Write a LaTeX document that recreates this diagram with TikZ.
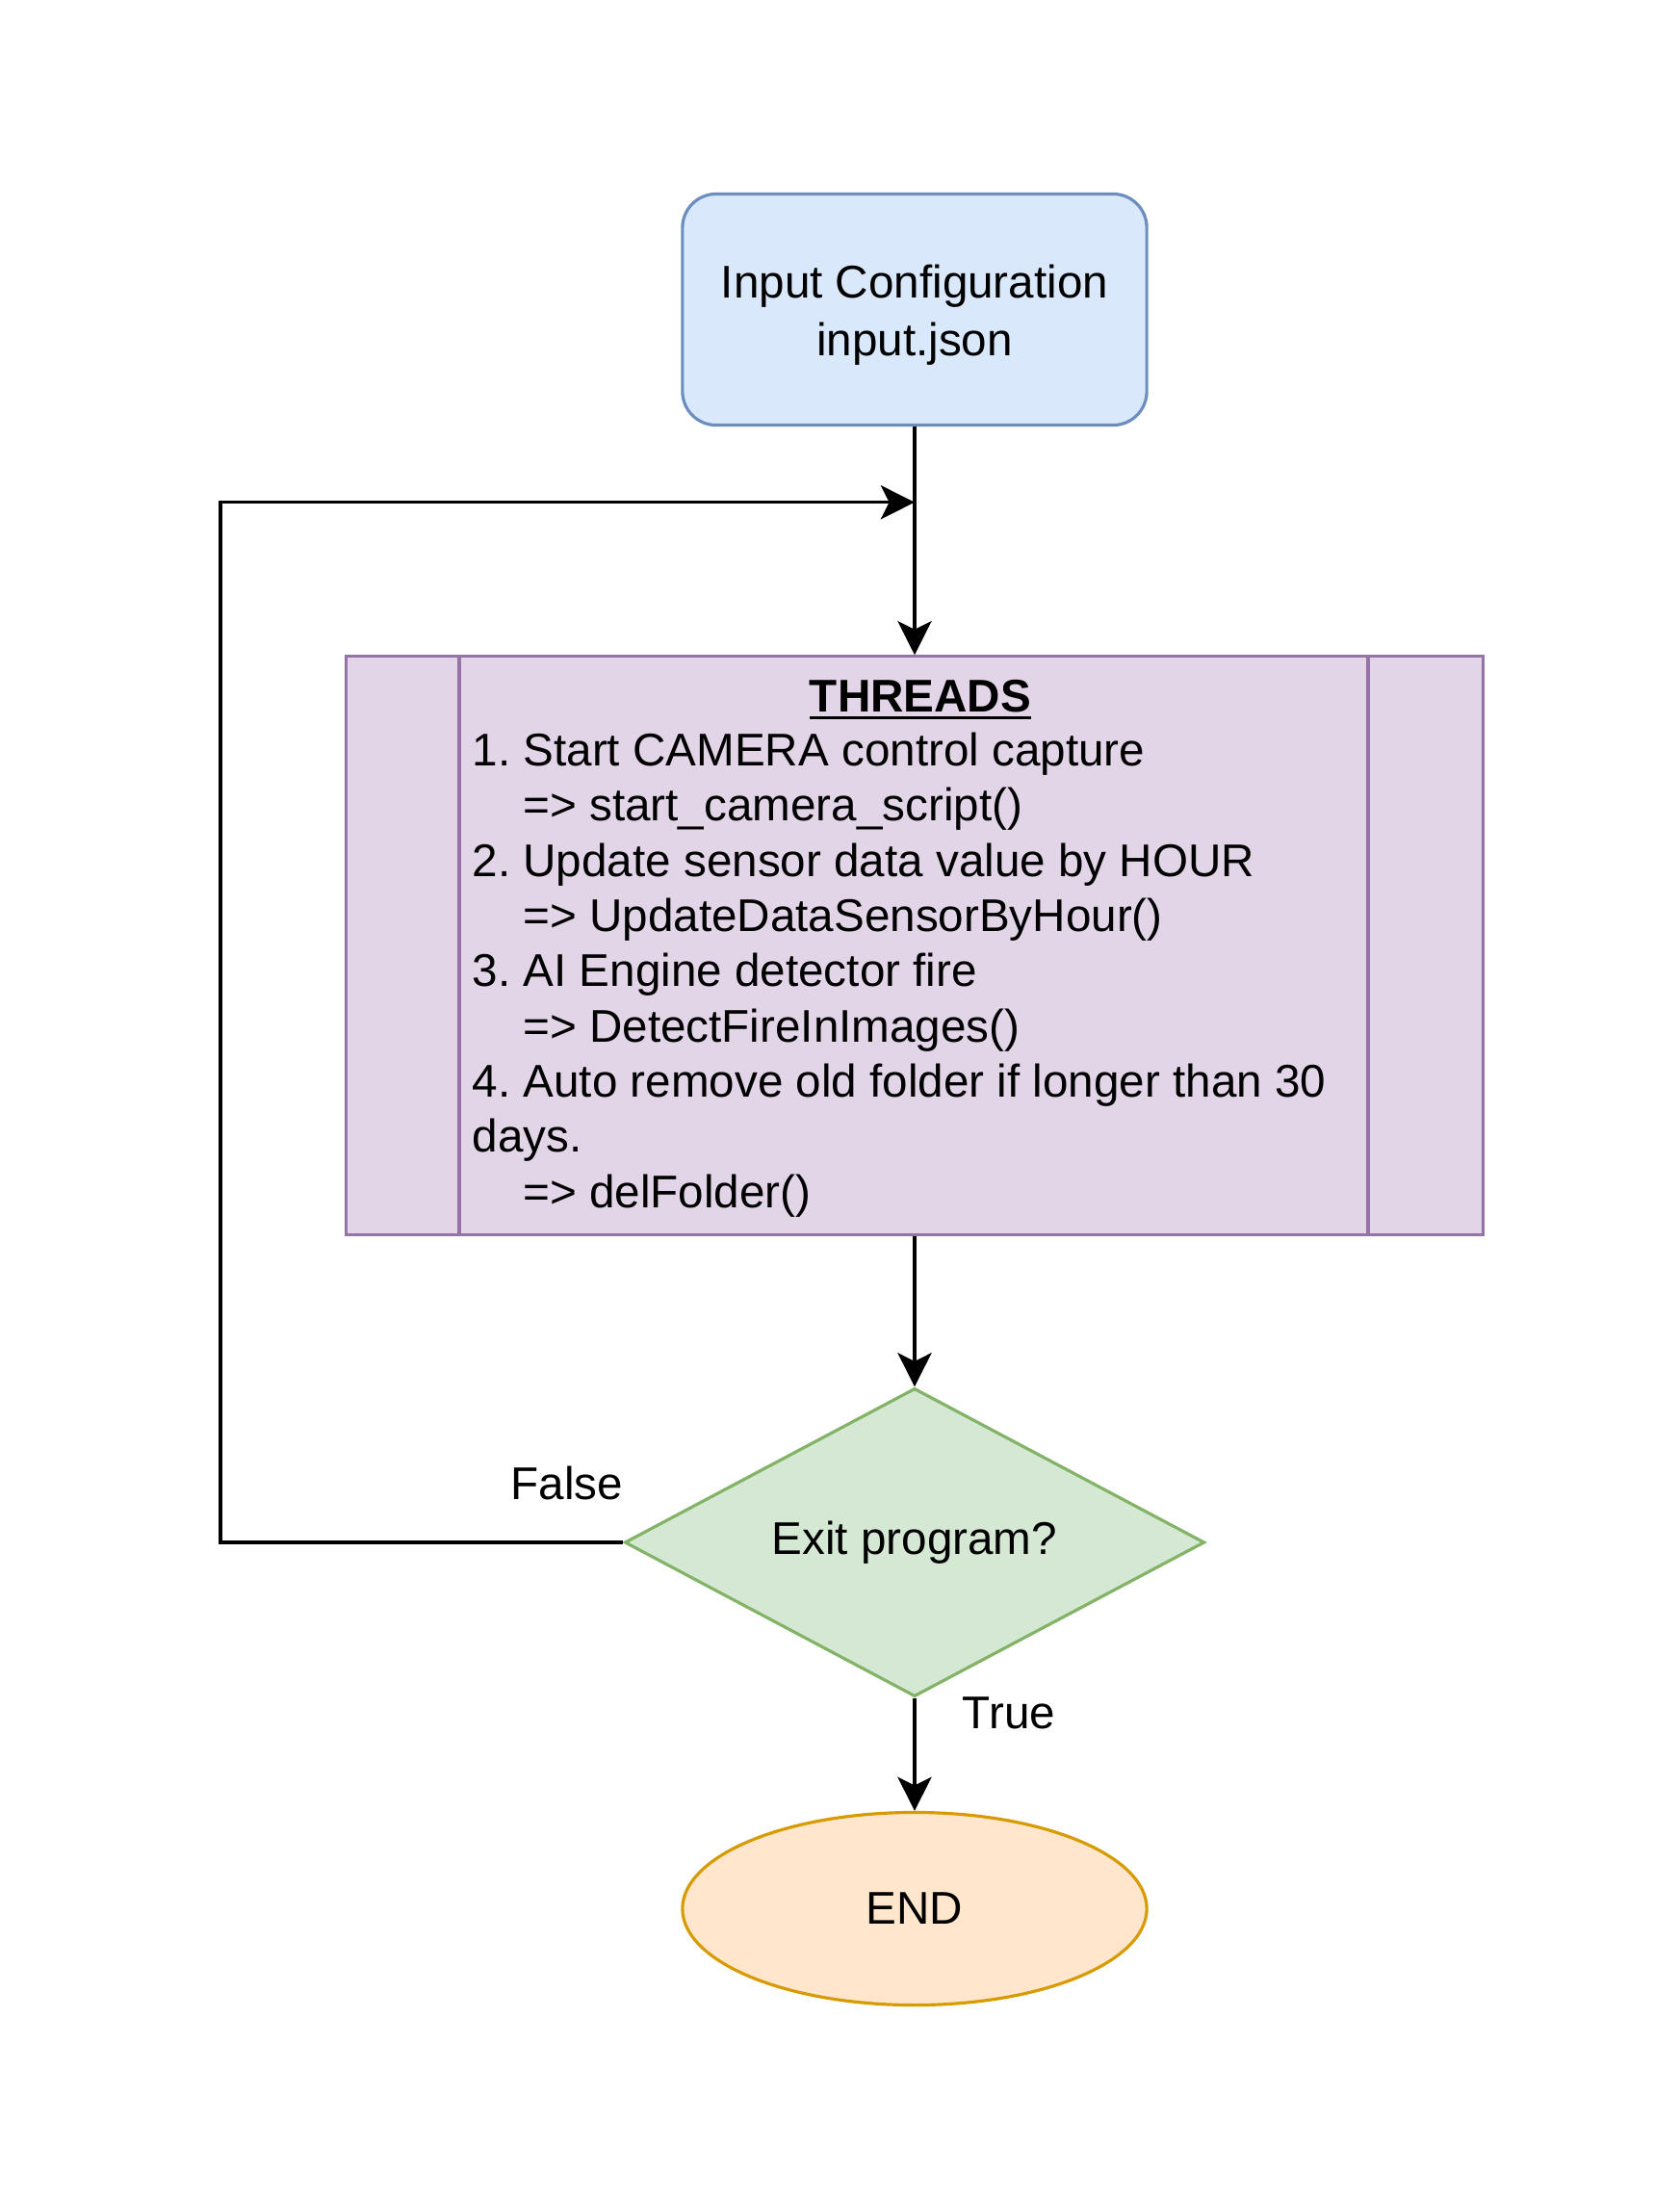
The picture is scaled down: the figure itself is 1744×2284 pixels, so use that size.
\documentclass[tikz,border=0pt]{standalone}
\usepackage{fontspec}
\setmainfont{Liberation Sans}
\usetikzlibrary{shapes.geometric,arrows.meta,calc}
\frenchspacing

\definecolor{blueFill}{HTML}{DAE8FC}
\definecolor{blueLine}{HTML}{6C8EBF}
\definecolor{purpleFill}{HTML}{E1D5E7}
\definecolor{purpleLine}{HTML}{9673A6}
\definecolor{greenFill}{HTML}{D5E8D4}
\definecolor{greenLine}{HTML}{82B366}
\definecolor{orangeFill}{HTML}{FFE6CC}
\definecolor{orangeLine}{HTML}{D79B00}

% bold heading with a heavier underline
\newcommand\thickunderline[1]{\setbox0\hbox{\bfseries #1}\rlap{\rule[-2.4pt]{\wd0}{0.9pt}}\box0}

\begin{document}
\begin{tikzpicture}[x=0.01cm,y=-0.01cm,
  every node/.style={font=\fontsize{13.54}{16.3}\selectfont, text=black},
  conn/.style={line width=1pt, -{Stealth[length=10pt,width=10pt,inset=2.5pt]}},
  startbox/.style={draw=blueLine, fill=blueFill, line width=0.9pt, rounded corners=0.35cm,
    minimum width=4.82cm, minimum height=2.40cm, inner sep=0pt,
    font=\fontsize{13.54}{17}\selectfont},
  procbox/.style={draw=purpleLine, fill=purpleFill, line width=0.9pt,
    minimum width=11.8cm, minimum height=6.0cm, inner sep=0pt},
  decision/.style={diamond, aspect=1.881, draw=greenLine, fill=greenFill, line width=0.9pt,
    minimum width=6.02cm, minimum height=3.2cm, inner sep=0pt},
  terminal/.style={ellipse, draw=orangeLine, fill=orangeFill, line width=0.9pt,
    minimum width=4.82cm, minimum height=2.0cm, inner sep=0pt},
  edgelabel/.style={inner sep=0pt}
]
\useasboundingbox (0,0) rectangle (1744,2284);

% start
\node[startbox] (input) at (950,321.5)
  {\begin{tabular}{@{}c@{}}\rule{0pt}{15.3pt}Input Configuration\\input.json\end{tabular}};

% threads block (predefined process)
\node[procbox] (threads) at (950,982) {};
\draw[purpleLine, line width=0.9pt]
  ($(threads.north west)+(119,0)$) -- ($(threads.south west)+(119,0)$);
\draw[purpleLine, line width=0.9pt]
  ($(threads.north east)+(-121,0)$) -- ($(threads.south east)+(-121,0)$);
\node[anchor=base, inner sep=0pt] (threadstitle) at (956,739) {\thickunderline{THREADS}};
\node[anchor=base west, inner sep=0pt] (threadslist) at (490,795.5)
  {\begin{tabular}[t]{@{}l@{}}
   1. Start CAMERA control capture\\
   \hspace*{15pt}=> start\_camera\_script()\\
   2. Update sensor data value by HOUR\\
   \hspace*{15pt}=> UpdateDataSensorByHour()\\
   3. AI Engine detector fire\\
   \hspace*{15pt}=> DetectFireInImages()\\
   4. Auto remove old folder if longer than 30\\
   days.\\
   \hspace*{15pt}=> delFolder()
   \end{tabular}};

% decision and end
\node[decision] (exit) at (950,1602) {Exit program?};
\node[terminal] (end) at (950,1982.5) {END};

% connectors
\coordinate (merge) at (950,521.7);
\coordinate (loopcorner) at (229,1602);
\draw[line width=1pt] (input.south) -- (merge);
\draw[conn] (merge) -- (threads.north);
\draw[conn] (exit.west) -- (loopcorner) |- (merge);
\draw[conn] (threads.south) -- (exit.north);
\draw[conn] (exit.south) -- (end.north);

% branch labels
\node[edgelabel] (falselabel) at (589,1540) {False};
\node[edgelabel] (truelabel) at (1048,1779) {True};
\end{tikzpicture}
\end{document}
